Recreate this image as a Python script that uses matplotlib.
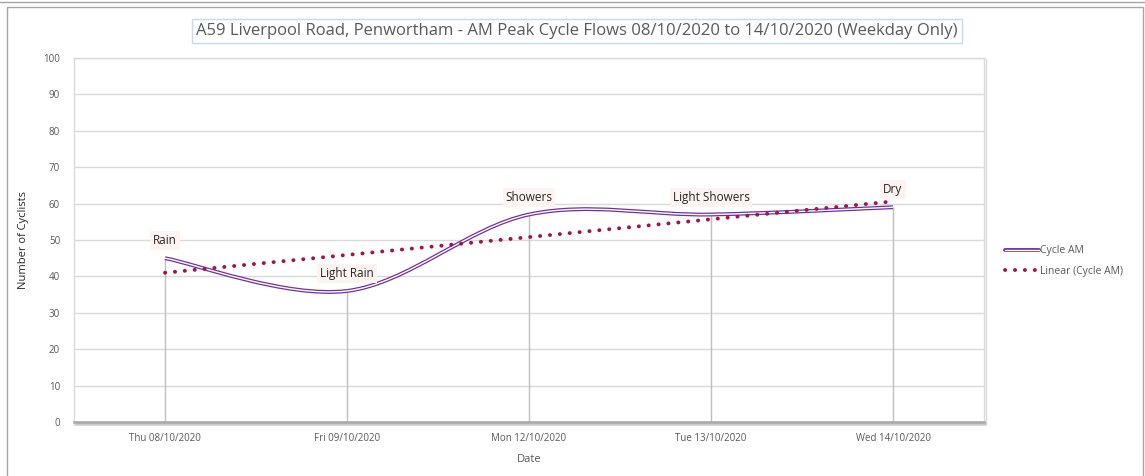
import matplotlib
matplotlib.use("Agg")
import matplotlib.pyplot as plt
import matplotlib.patheffects as pe
from matplotlib.path import Path
from matplotlib.patches import PathPatch, Rectangle
from matplotlib.lines import Line2D
import numpy as np

plt.rcParams['font.family'] = ['Open Sans', 'DejaVu Sans']

# data
dates = ["Thu 08/10/2020", "Fri 09/10/2020", "Mon 12/10/2020", "Tue 13/10/2020", "Wed 14/10/2020"]
cycle_am = [45, 36, 57, 57, 59]
weather = ["Rain", "Light Rain", "Showers", "Light Showers", "Dry"]

title = "A59 Liverpool Road, Penwortham - AM Peak Cycle Flows 08/10/2020 to 14/10/2020 (Weekday Only)"

purple = "#7030A0"
trend_col = "#A0144A"

fig = plt.figure(figsize=(11.45, 4.76), dpi=100)
ax = fig.add_axes([74 / 1145, 1 - 422 / 476, 910 / 1145, 364 / 476])

x = np.arange(len(dates)) + 0.5
y = np.array(cycle_am, dtype=float)

# Excel style smoothed line (cardinal bezier)
pts = np.column_stack([x, y])
verts = [pts[0]]
codes = [Path.MOVETO]
n = len(pts)
for i in range(n - 1):
    p0 = pts[i - 1] if i > 0 else pts[i]
    p1 = pts[i]
    p2 = pts[i + 1]
    p3 = pts[i + 2] if i + 2 < n else pts[i + 1]
    c1 = p1 + (p2 - p0) / 6
    c2 = p2 - (p3 - p1) / 6
    verts += [c1, c2, p2]
    codes += [Path.CURVE4] * 3
double = [pe.Stroke(linewidth=2.8, foreground=purple), pe.Stroke(linewidth=1.0, foreground="white")]
curve = PathPatch(Path(verts, codes), fill=False, edgecolor=purple, lw=2.8, zorder=4,
                  path_effects=double)
ax.add_patch(curve)

# drop lines
ax.vlines(x, 0, y, color="#BFBFBF", lw=1, zorder=2)

# linear trend
coef = np.polyfit(np.arange(1, n + 1), y, 1)
trend = np.polyval(coef, np.arange(1, n + 1))
ax.plot(x, trend, color=trend_col, lw=2.8, linestyle=(0, (0.05, 2.5)),
        dash_capstyle="round", solid_capstyle="round", zorder=5)

# data labels
for xi, yi, lab in zip(x, y, weather):
    ax.annotate(lab, (xi, yi), xytext=(0, 12.5), textcoords="offset points",
                ha="center", va="center", fontsize=8.5, color="#262626", zorder=6,
                bbox=dict(boxstyle="square,pad=0.25", fc="#FDF3F0", ec="none"))

ax.set_xlim(0, n)
ax.set_ylim(0, 100)
ax.set_yticks(range(0, 101, 10))
ax.set_xticks(x)
ax.set_xticklabels(dates)
ax.tick_params(axis="both", length=0, labelsize=7, labelcolor="#595959")
ax.tick_params(axis="y", pad=10)
ax.tick_params(axis="x", pad=8)
ax.grid(axis="y", color="#D9D9D9", lw=1)
ax.set_axisbelow(True)
for s in ["top", "right", "left"]:
    ax.spines[s].set_color("#D9D9D9")
    ax.spines[s].set_linewidth(1)
ax.spines["bottom"].set_color("#A6A6A6")
ax.spines["bottom"].set_linewidth(1.8)
ax.spines["bottom"].set_path_effects([pe.SimpleLineShadow(offset=(1, -1.5), shadow_color="#BFBFBF", alpha=0.8), pe.Normal()])
ax.spines["right"].set_path_effects([pe.SimpleLineShadow(offset=(1.5, -1), shadow_color="#D0D0D0", alpha=0.8), pe.Normal()])

ax.set_ylabel("Number of Cyclists", fontsize=8, color="#262626", labelpad=10)
ax.set_xlabel("Date", fontsize=8, color="#595959", labelpad=7)

# title in a box
fig.text(577 / 1145, 1 - 31 / 476, title, ha="center", va="center", fontsize=12, color="#595959",
         bbox=dict(boxstyle="square,pad=0.25", fc="white", ec="#C5D9F1", lw=1))

# legend
h1 = Line2D([], [], color=purple, lw=2.8, solid_capstyle="round", path_effects=double)
h2 = Line2D([], [], color=trend_col, lw=2.8, linestyle=(0, (0.05, 2.5)), dash_capstyle="round")
fig.legend([h1, h2], ["Cycle AM", "Linear (Cycle AM)"], loc="center left",
           bbox_to_anchor=(996 / 1145, 1 - 261 / 476), frameon=False, fontsize=7.5,
           labelcolor="#595959", handlelength=3.2, handletextpad=0.1, labelspacing=0.9)

# chart border
fig.add_artist(Rectangle((7 / 1145, -0.05), 1136 / 1145, 1 - 7 / 476 + 0.05, transform=fig.transFigure,
                         fill=False, ec="#A6A6A6", lw=1))
fig.add_artist(Line2D([0, 1], [1 - 1.5 / 476] * 2, transform=fig.transFigure, color="#A6A6A6", lw=1))

fig.savefig("out.png", dpi=100)
